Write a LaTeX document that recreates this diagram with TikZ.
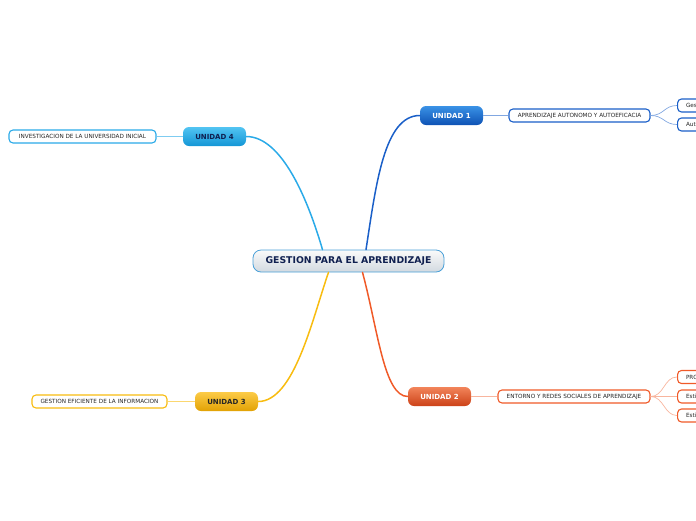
\documentclass[tikz,border=0pt]{standalone}
\usepackage{fontspec}
\setmainfont{DejaVu Sans}
\usetikzlibrary{calc}

\definecolor{navy}{HTML}{102050}
\definecolor{blueA}{HTML}{3A92E6}
\definecolor{blueB}{HTML}{0E52B4}
\definecolor{blueL}{HTML}{1A5FC8}
\definecolor{redA}{HTML}{F2845A}
\definecolor{redB}{HTML}{CC4218}
\definecolor{redL}{HTML}{F05A28}
\definecolor{yelA}{HTML}{FCCB48}
\definecolor{yelB}{HTML}{E2A204}
\definecolor{yelL}{HTML}{F8BC10}
\definecolor{cyaA}{HTML}{52C4F2}
\definecolor{cyaB}{HTML}{1396D6}
\definecolor{cyaL}{HTML}{2AAAE8}
\definecolor{midA}{HTML}{FAFAFA}
\definecolor{midB}{HTML}{D2D9E0}
\definecolor{midL}{HTML}{4AA0D8}

\begin{document}
\begin{tikzpicture}[x=1pt,y=-1pt,
    central/.style={draw=midL, line width=0.8pt, rounded corners=8pt, top color=midA, bottom color=midB,
        minimum width=191pt, minimum height=22pt, inner sep=0pt, text=navy,
        font=\fontsize{9.3}{11}\selectfont\bfseries},
    unit/.style={rounded corners=6pt, minimum width=63pt, minimum height=19pt, inner sep=0pt,
        font=\fontsize{7}{8}\selectfont\bfseries},
    topic/.style={draw, fill=white, line width=1.1pt, rounded corners=4pt, minimum height=13pt,
        inner sep=0pt, text=black!85, font=\fontsize{5.7}{7}\selectfont},
    leaf/.style={topic, anchor=west, text width=40pt, align=left, inner xsep=8.5pt},
    branch/.style={line width=1.5pt, line cap=round},
    twig/.style={line width=0.7pt}]

    \useasboundingbox (0,0) rectangle (696,520);
    \clip (0,0) rectangle (696,520);

    % tema central
    \node[central] (tema) at (348.5,261) {GESTION PARA EL APRENDIZAJE};

    % unidades
    \node[unit, top color=blueA, bottom color=blueB, text=white] (u1) at (451.5,115.5) {UNIDAD 1};
    \node[unit, top color=redA, bottom color=redB, text=white] (u2) at (439.5,396.5) {UNIDAD 2};
    \node[unit, top color=yelA, bottom color=yelB, text=black!85] (u3) at (226.5,401.5) {UNIDAD 3};
    \node[unit, top color=cyaA, bottom color=cyaB, text=navy] (u4) at (214.5,136.5) {UNIDAD 4};

    % subtemas
    \node[topic, draw=blueL, minimum width=141pt] (t1) at (579.5,115.5) {APRENDIZAJE AUTONOMO Y AUTOEFICACIA};
    \node[topic, draw=redL, minimum width=152pt] (t2) at (574,396.5) {ENTORNO Y REDES SOCIALES DE APRENDIZAJE};
    \node[topic, draw=yelL, minimum width=135pt] (t3) at (99.5,401.5) {GESTION EFICIENTE DE LA INFORMACION};
    \node[topic, draw=cyaL, minimum width=147pt] (t4) at (82.5,136.5) {INVESTIGACION DE LA UNIVERSIDAD INICIAL};

    % hojas (cortadas en el borde)
    \node[leaf, draw=blueL] (h1) at (677,105.5) {Ges};
    \node[leaf, draw=blueL] (h2) at (677,124.5) {Aut};
    \node[leaf, draw=redL] (h3) at (677,377) {PRO};
    \node[leaf, draw=redL] (h4) at (677,396.5) {Esti};
    \node[leaf, draw=redL] (h5) at (677,415.5) {Esti};

    % ramas principales
    \draw[branch, blueL] ([xshift=17.5pt]tema.north) .. controls (376,185) and (384,115.5) .. (u1.west);
    \draw[branch, redL] ([xshift=14pt]tema.south) .. controls (378,330) and (384,396.5) .. (u2.west);
    \draw[branch, yelL] ([xshift=-20pt]tema.south) .. controls (312,320) and (294,401.5) .. (u3.east);
    \draw[branch, cyaL] ([xshift=-26pt]tema.north) .. controls (308,200) and (282,136.5) .. (u4.east);

    % enlaces a subtemas
    \draw[twig, blueL!55] (u1.east) -- (t1.west);
    \draw[twig, redL!45] (u2.east) -- (t2.west);
    \draw[twig, yelL!60] (u3.west) -- (t3.east);
    \draw[twig, cyaL!60] (u4.west) -- (t4.east);

    % enlaces a hojas
    \draw[twig, blueL!55] (t1.east) .. controls (664,115.5) and (664,105.5) .. (h1.west);
    \draw[twig, blueL!55] (t1.east) .. controls (664,115.5) and (664,124.5) .. (h2.west);
    \draw[twig, redL!45] (t2.east) .. controls (664,396.5) and (664,377) .. (h3.west);
    \draw[twig, redL!45] (t2.east) -- (h4.west);
    \draw[twig, redL!45] (t2.east) .. controls (664,396.5) and (664,415.5) .. (h5.west);
\end{tikzpicture}
\end{document}
